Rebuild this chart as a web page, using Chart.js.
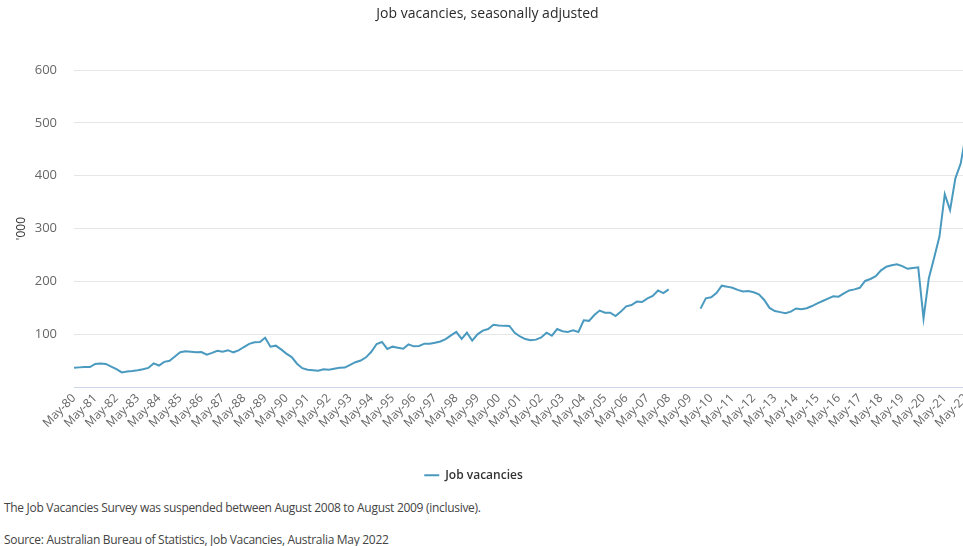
<!DOCTYPE html>
<html><head><meta charset="utf-8">
<script src="https://cdn.jsdelivr.net/npm/chart.js@4.4.1/dist/chart.umd.min.js"></script>
<style>
html,body{margin:0;padding:0;background:#fff;overflow:hidden;width:963px;height:546px;}
#wrap{position:absolute;left:0;top:0;width:975px;height:495px;}
.note{position:absolute;left:4px;font-family:'Open Sans',sans-serif;font-size:12px;color:#444;white-space:nowrap;letter-spacing:-0.3px;}
</style></head><body>
<div id="wrap"><canvas id="c" width="975" height="495"></canvas></div>
<div class="note" style="top:499px">The Job Vacancies Survey was suspended between August 2008 to August 2009 (inclusive).</div>
<div class="note" style="top:531px">Source: Australian Bureau of Statistics, Job Vacancies, Australia May 2022</div>
<script>
const titleText = "Job vacancies, seasonally adjusted";
const seriesName = "Job vacancies";
const yAxisTitle = "'000";
const quarters = [
"May-80","Aug-80","Nov-80","Feb-81","May-81","Aug-81","Nov-81","Feb-82",
"May-82","Aug-82","Nov-82","Feb-83","May-83","Aug-83","Nov-83","Feb-84",
"May-84","Aug-84","Nov-84","Feb-85","May-85","Aug-85","Nov-85","Feb-86",
"May-86","Aug-86","Nov-86","Feb-87","May-87","Aug-87","Nov-87","Feb-88",
"May-88","Aug-88","Nov-88","Feb-89","May-89","Aug-89","Nov-89","Feb-90",
"May-90","Aug-90","Nov-90","Feb-91","May-91","Aug-91","Nov-91","Feb-92",
"May-92","Aug-92","Nov-92","Feb-93","May-93","Aug-93","Nov-93","Feb-94",
"May-94","Aug-94","Nov-94","Feb-95","May-95","Aug-95","Nov-95","Feb-96",
"May-96","Aug-96","Nov-96","Feb-97","May-97","Aug-97","Nov-97","Feb-98",
"May-98","Aug-98","Nov-98","Feb-99","May-99","Aug-99","Nov-99","Feb-00",
"May-00","Aug-00","Nov-00","Feb-01","May-01","Aug-01","Nov-01","Feb-02",
"May-02","Aug-02","Nov-02","Feb-03","May-03","Aug-03","Nov-03","Feb-04",
"May-04","Aug-04","Nov-04","Feb-05","May-05","Aug-05","Nov-05","Feb-06",
"May-06","Aug-06","Nov-06","Feb-07","May-07","Aug-07","Nov-07","Feb-08",
"May-08","Aug-08","Nov-08","Feb-09","May-09","Aug-09","Nov-09","Feb-10",
"May-10","Aug-10","Nov-10","Feb-11","May-11","Aug-11","Nov-11","Feb-12",
"May-12","Aug-12","Nov-12","Feb-13","May-13","Aug-13","Nov-13","Feb-14",
"May-14","Aug-14","Nov-14","Feb-15","May-15","Aug-15","Nov-15","Feb-16",
"May-16","Aug-16","Nov-16","Feb-17","May-17","Aug-17","Nov-17","Feb-18",
"May-18","Aug-18","Nov-18","Feb-19","May-19","Aug-19","Nov-19","Feb-20",
"May-20","Aug-20","Nov-20","Feb-21","May-21","Aug-21","Nov-21","Feb-22",
"May-22"];
const vacancies = [
37,37.5,38,38,44,45,44,39,
34,28,29.5,30.5,32,34,36.5,45,
41,48,50,58,66,68,67,66,
66.6,61.5,65,69,67,70,66,69.5,
76,82,85,85.5,93.7,76.7,78.6,71.5,
63.5,57,44.5,36,33,32,31,34,
33,35,36.8,37.2,42.2,47.3,50.5,56.5,
67,81.7,85.5,72.3,76.7,74.8,72.9,81,
77.3,78,82.4,82.4,84,86.5,91,98,
104.5,91.5,103,88,100,107,110,118,
116.5,116,115.8,103,96,91,88.7,90,
94,103,97.5,110,106,104.5,107.5,104.5,
126.5,125.5,136.5,145,141,141,134.7,143,
153,155.5,162,161,168,172.5,183,178,
185,null,null,null,null,null,148.6,168,
170,178,192,190.2,188,184,181,182,
179.5,175.7,165,150,144,142,140,143,
149,147.5,149.5,153.5,158.7,163,167.5,172,
171.3,177.5,183,185,188,201,204.7,210,
221,228,230.5,232.5,229,224,225.5,226.8,
130,206,245,285,365,335,395,423,
480];
const yTicks = [0,100,200,300,400,500,600];
const lineColor = '#4a9ac0';

const legendShift = {
  id: 'legendShift',
  afterLayout(chart){ const lg = chart.legend; if (lg){ lg.left -= 14; lg.right -= 14; } }
};

new Chart(document.getElementById('c'), {
  type: 'line',
  data: {
    labels: quarters,
    datasets: [{
      label: seriesName,
      data: vacancies,
      borderColor: lineColor,
      backgroundColor: lineColor,
      borderWidth: 2,
      pointRadius: 0,
      tension: 0,
      spanGaps: false
    }]
  },
  plugins: [legendShift],
  options: {
    responsive: false,
    animation: false,
    layout: { padding: { left: 0, right: 0, top: 0, bottom: 3.8 } },
    plugins: {
      title: {
        display: true, text: titleText, color: '#2a2a2a',
        font: { family: 'Open Sans', size: 14, weight: 'normal' },
        padding: { top: 6, bottom: 47.2 }
      },
      legend: {
        display: true, position: 'bottom',
        labels: {
          color: '#333', font: { family: 'Open Sans', size: 12, weight: '600' },
          boxWidth: 15, boxHeight: 2, padding: 10,
          generateLabels: (chart) => chart.data.datasets.map((d, i) => ({
            text: d.label, fillStyle: d.borderColor, strokeStyle: d.borderColor,
            lineWidth: 0, datasetIndex: i, hidden: false, fontColor: '#333'
          }))
        }
      },
      tooltip: { enabled: false }
    },
    scales: {
      x: {
        type: 'category',
        offset: false,
        afterFit: (s) => { s.height = 72; s.paddingRight = 9; },
        grid: { display: false, drawTicks: false },
        border: { display: true, color: '#ccd6eb', width: 1 },
        ticks: {
          autoSkip: false, maxRotation: 45, minRotation: 45, padding: 4,
          color: '#666', font: { family: 'Open Sans', size: 12 },
          callback: function(v){ const l = this.getLabelForValue(v); return l.startsWith('May') ? l : ''; }
        }
      },
      y: {
        min: yTicks[0], max: yTicks[yTicks.length - 1],
        afterFit: (s) => { s.width = 74; },
        afterBuildTicks: (s) => { s.ticks = yTicks.map(v => ({ value: v })); },
        grid: { color: '#e6e6e6', drawTicks: false },
        border: { display: false },
        ticks: {
          padding: 17, color: '#666', font: { family: 'Open Sans', size: 13 },
          callback: (v) => v === 0 ? '' : String(v)
        },
        title: {
          display: true, text: yAxisTitle, color: '#333',
          font: { family: 'Open Sans', size: 12 }, padding: { top: 14, bottom: 0 }
        }
      }
    }
  }
});
</script>
</body></html>
